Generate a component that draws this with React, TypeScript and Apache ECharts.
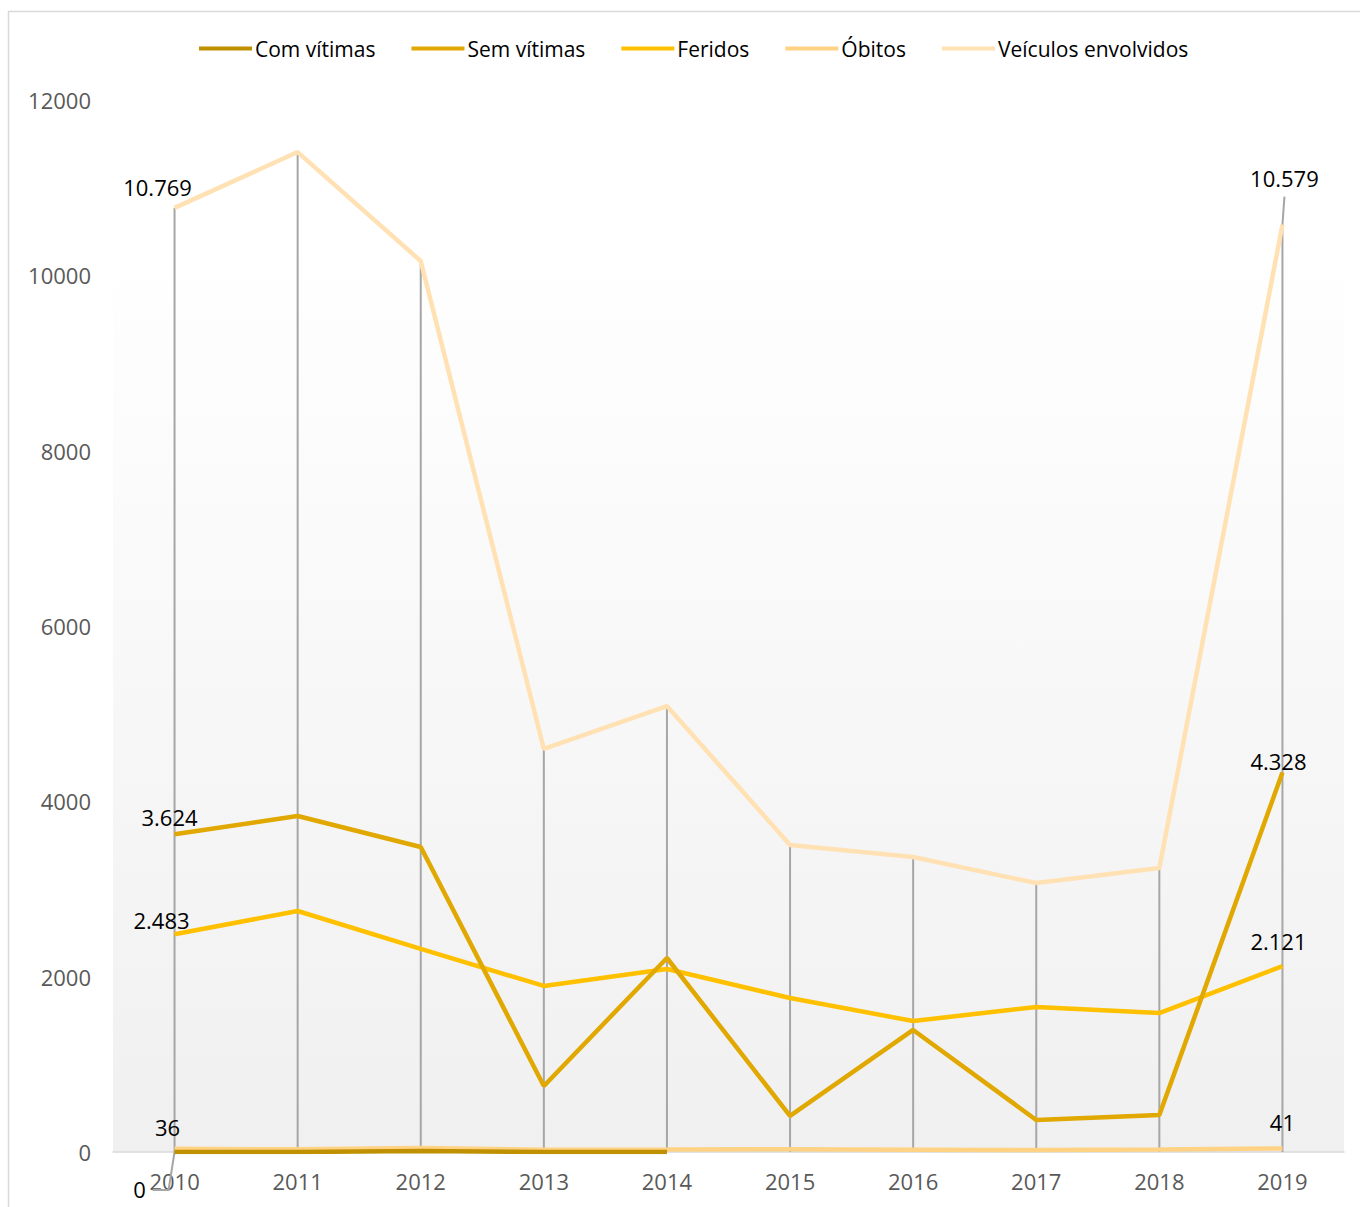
import React, { useEffect, useRef } from "react";
import * as echarts from "echarts";

const categories = ["2010", "2011", "2012", "2013", "2014", "2015", "2016", "2017", "2018", "2019"];
const comVitimas: (number | null)[] = [0, 0, 12, 0, 0, null, null, null, null, null];
const semVitimas = [3624, 3833, 3479, 753, 2213, 411, 1392, 365, 422, 4328];
const feridos = [2483, 2749, 2316, 1894, 2087, 1757, 1494, 1654, 1585, 2121];
const obitos = [36, 30, 45, 26, 28, 32, 26, 22, 28, 41];
const veiculos = [10769, 11406, 10163, 4597, 5087, 3502, 3365, 3068, 3239, 10579];
const yTicks = [0, 2000, 4000, 6000, 8000, 10000, 12000];

const seriesNames = ["Com vítimas", "Sem vítimas", "Feridos", "Óbitos", "Veículos envolvidos"];
const seriesColors = ["#bf9000", "#e0a800", "#ffc000", "#ffd284", "#ffe1b4"];
const seriesData = [comVitimas, semVitimas, feridos, obitos, veiculos];
// label offsets for first / last labels per series
const labelOffsets: Record<string, [number, number][]> = {
  "Com vítimas": [[-35, 53], [0, 0]],
  "Sem vítimas": [[-5, -1], [-4, 4]],
  "Feridos": [[-13, 2], [-4, -9]],
  "Óbitos": [[-7, -6], [0, -10]],
  "Veículos envolvidos": [[-17, -5], [2, -31]],
};

const FONT = "'Open Sans', sans-serif";

function fmt(v: number): string {
  const s = Math.round(v).toString();
  return s.replace(/\B(?=(\d{3})+(?!\d))/g, ".");
}

export default function App() {
  const ref = useRef<HTMLDivElement>(null);
  useEffect(() => {
    if (!ref.current) return;
    const chart = echarts.init(ref.current, undefined, { renderer: "svg" });
    const last = categories.length - 1;

    const lineSeries = seriesNames.map((name, si) => {
      const arr = seriesData[si];
      const showLast = name !== "Com vítimas";
      return {
        name,
        type: "line",
        z: 3 + (seriesNames.length - si),
        symbol: "circle",
        symbolSize: 0.01,
        showSymbol: true,
        connectNulls: false,
        lineStyle: { color: seriesColors[si], width: 4.5 },
        itemStyle: { color: seriesColors[si] },
        data: arr.map((v, i) => {
          const isFirst = i === 0;
          const isLast = i === last && showLast;
          return {
            value: v,
            label: {
              show: v !== null && (isFirst || isLast),
              position: "top",
              offset: isFirst ? labelOffsets[name][0] : labelOffsets[name][1],
              formatter: (p: any) => fmt(p.value),
              color: "#000000",
              fontSize: 22,
              fontFamily: FONT,
            },
          };
        }),
      };
    });

    const dropData = categories.map((_, i) => {
      let m = 0;
      seriesData.forEach((arr) => {
        const v = arr[i];
        if (v !== null && v > m) m = v;
      });
      return [i, m];
    });

    const leaderData = [
      [last, veiculos[last], 0],
      [0, comVitimas[0] as number, 1],
    ];

    chart.setOption({
      animation: false,
      textStyle: { fontFamily: FONT },
      graphic: [
        {
          type: "rect",
          z: -20,
          silent: true,
          shape: { x: 8.5, y: 11.5, width: 1400, height: 1300 },
          style: { fill: "#ffffff", stroke: "#d9d9d9", lineWidth: 1.5 },
        },
        {
          type: "rect",
          z: -10,
          silent: true,
          shape: { x: 113, y: 237, width: 1231, height: 915 },
          style: {
            fill: new echarts.graphic.LinearGradient(0, 0, 0, 1, [
              { offset: 0, color: "#ffffff" },
              { offset: 1, color: "#f0f0f0" },
            ]),
          },
        },
      ],
      legend: {
        data: seriesNames.map((n) => ({ name: n, icon: "rect" })),
        left: 194,
        top: 33,
        itemWidth: 53,
        itemHeight: 4,
        itemGap: 36,
        textStyle: { color: "#000000", fontSize: 21, fontFamily: FONT, padding: [0, 0, 0, -2] },
      },
      grid: { left: 113, right: 16, top: 100, bottom: 55, containLabel: false },
      xAxis: {
        type: "category",
        data: categories,
        boundaryGap: true,
        axisLine: { show: true, lineStyle: { color: "#d9d9d9", width: 1.5 } },
        axisTick: { show: false },
        axisLabel: { color: "#595959", fontSize: 22, fontFamily: FONT, margin: 18 },
        splitLine: { show: false },
      },
      yAxis: {
        type: "value",
        min: yTicks[0],
        max: yTicks[yTicks.length - 1],
        interval: 2000,
        axisLine: { show: false },
        axisTick: { show: false },
        splitLine: { show: false },
        axisLabel: {
          color: "#595959",
          fontSize: 22,
          fontFamily: FONT,
          margin: 22,
          formatter: (v: number) => String(v),
        },
      },
      series: [
        {
          name: "dropLines",
          type: "custom",
          z: 1,
          silent: true,
          data: dropData,
          renderItem: (params: any, api: any) => {
            const top = api.coord([api.value(0), api.value(1)]);
            const bottom = api.coord([api.value(0), 0]);
            return {
              type: "line",
              shape: { x1: top[0], y1: top[1], x2: bottom[0], y2: bottom[1] },
              style: { stroke: "#a6a6a6", lineWidth: 2 },
            };
          },
        },
        {
          name: "leaders",
          type: "custom",
          z: 2,
          silent: true,
          data: leaderData,
          renderItem: (params: any, api: any) => {
            const p = api.coord([api.value(0), api.value(1)]);
            const kind = api.value(2);
            const pts =
              kind === 0
                ? [
                    [p[0], p[1]],
                    [p[0] + 2, p[1] - 28],
                  ]
                : [
                    [p[0], p[1]],
                    [p[0] - 6, p[1] + 38],
                    [p[0] - 22, p[1] + 38],
                  ];
            return {
              type: "polyline",
              shape: { points: pts },
              style: { stroke: "#a6a6a6", lineWidth: 2, fill: "none" },
            };
          },
        },
        ...lineSeries,
      ],
    } as any);
    return () => chart.dispose();
  }, []);
  return (
    <div
      ref={ref}
      style={{ position: "fixed", left: 0, top: 0, width: 1360, height: 1207, background: "#ffffff" }}
    />
  );
}
